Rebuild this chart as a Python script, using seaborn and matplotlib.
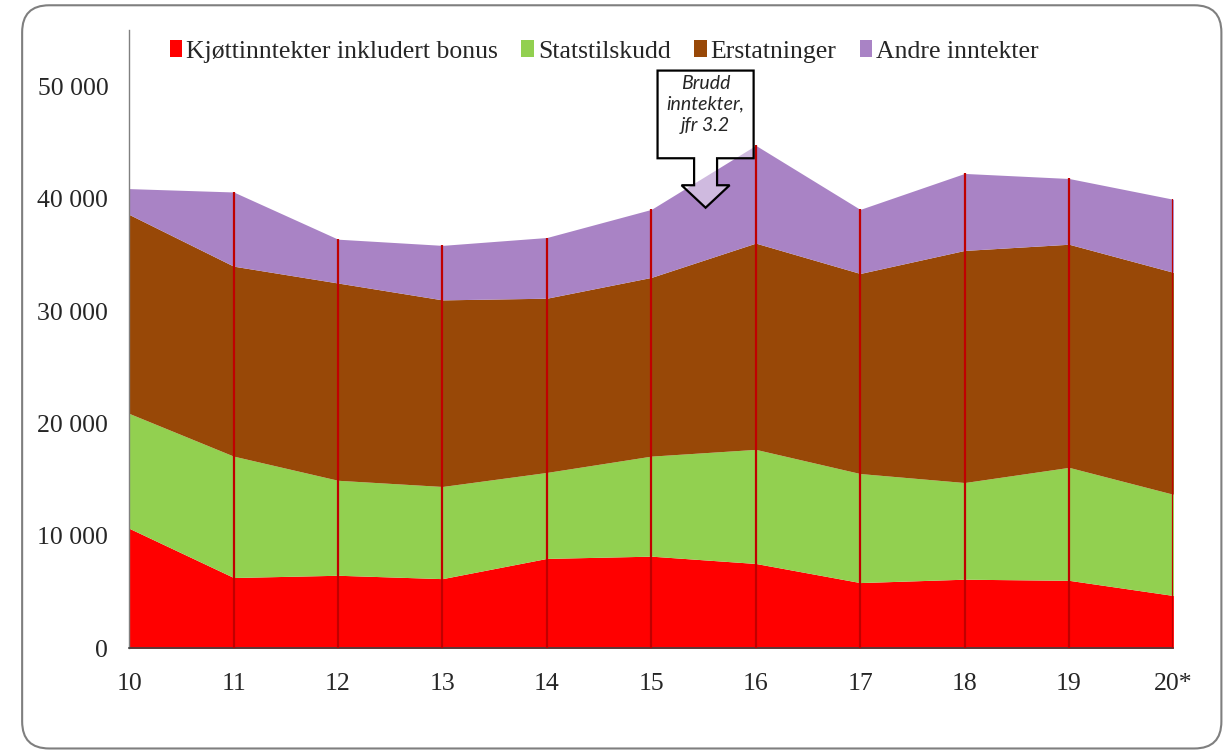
import numpy as np
import pandas as pd
import matplotlib.pyplot as plt
import seaborn as sns
from matplotlib.patches import FancyBboxPatch, Polygon

# Data, NOK per unit
years = [10, 11, 12, 13, 14, 15, 16, 17, 18, 19, 20]
year_labels = ["10", "11", "12", "13", "14", "15", "16", "17", "18", "19", "20*"]
kjott = [10680, 6300, 6500, 6200, 8000, 8200, 7550, 5850, 6150, 6050, 4700]
statstilskudd = [10220, 10800, 8450, 8200, 7650, 8900, 10150, 9700, 8600, 10050, 9000]
erstatninger = [17700, 16900, 17550, 16600, 15500, 15900, 18350, 17800, 20650, 19850, 19750]
andre = [2300, 6600, 3900, 4850, 5400, 6050, 8700, 5700, 6850, 5850, 6500]

series_names = ["Kjøttinntekter inkludert bonus", "Statstilskudd", "Erstatninger", "Andre inntekter"]
colors = ["#FF0000", "#92D050", "#984807", "#A983C5"]
yticks = [0, 10000, 20000, 30000, 40000, 50000]

sns.set_style("white")
plt.rcParams["font.family"] = ["Liberation Serif", "DejaVu Serif"]

df = pd.DataFrame({
    "year": years,
    series_names[0]: kjott,
    series_names[1]: statstilskudd,
    series_names[2]: erstatninger,
    series_names[3]: andre,
})

fig = plt.figure(figsize=(12.3, 7.53), dpi=100)
ax = fig.add_axes([0.105, 0.139, 0.849, 0.821])

ax.stackplot(df["year"], [df[n] for n in series_names], colors=colors,
             labels=series_names, linewidth=0)

# vertical red lines up to the total
total = df[series_names].sum(axis=1)
ax.vlines(df["year"][1:], 0, total[1:], color="#C00000", linewidth=1.6, zorder=3)

ax.set_xlim(10, 20)
ax.set_ylim(0, 55000)
ax.set_xticks(years)
ax.set_xticklabels(year_labels)
ax.set_yticks(yticks)
ax.set_yticklabels([f"{v:,}".replace(",", " ") for v in yticks])
ax.tick_params(axis="both", length=0, labelsize=18.5)
ax.tick_params(axis="x", pad=18)
ax.tick_params(axis="y", pad=15)

sns.despine(ax=ax, top=True, right=True)
ax.spines["left"].set_color("#808080")
ax.spines["left"].set_linewidth(1.0)
ax.spines["bottom"].set_color("#404040")
ax.spines["bottom"].set_linewidth(1.2)

leg = ax.legend(loc="upper center", bbox_to_anchor=(0.455, 1.0), ncol=4, frameon=False,
                fontsize=18.5, handlelength=0.5, handleheight=0.6, handletextpad=0.15,
                columnspacing=0.9, borderaxespad=0.0)

# callout arrow "Brudd inntekter"
arrow = [(15.06, 51400), (15.98, 51400), (15.98, 43600), (15.63, 43600), (15.63, 41200),
         (15.75, 41200), (15.52, 39200), (15.29, 41200), (15.41, 41200), (15.41, 43600),
         (15.06, 43600)]
ax.add_patch(Polygon(arrow, closed=True, facecolor=(1, 1, 1, 0.45), edgecolor="black",
                     linewidth=1.6, zorder=5, clip_on=False))
ax.text(15.52, 48400, "Brudd\ninntekter,\njfr 3.2", ha="center", va="center",
        fontsize=14, style="italic", family=["Lato", "DejaVu Sans"], linespacing=1.3,
        zorder=6)

# rounded frame around the figure
frame = FancyBboxPatch((0.018, 0.006), 0.975, 0.987, boxstyle="round,pad=0,rounding_size=0.022",
                       transform=fig.transFigure, facecolor="none", edgecolor="#7f7f7f",
                       linewidth=1.5, mutation_aspect=1.63)
fig.patches.append(frame)

fig.savefig("out.png", dpi=100)
